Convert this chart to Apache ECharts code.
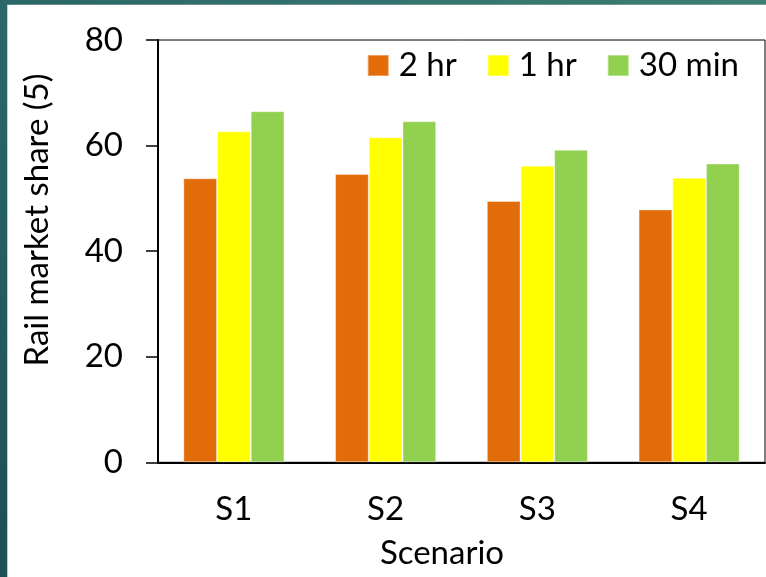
<!DOCTYPE html>
<html>
<head>
<meta charset="utf-8">
<style>
  html, body { margin: 0; padding: 0; background: #ffffff; }
  #chart { width: 766px; height: 577px; }
</style>
<script src="https://cdn.jsdelivr.net/npm/echarts@6/dist/echarts.min.js"></script>
</head>
<body>
<div id="chart"></div>
<script>
// Scenarios on the x axis
const categories = ['S1', 'S2', 'S3', 'S4'];

// Rail market share per access-time series
const seriesNames = ['2 hr', '1 hr', '30 min'];
const share2hr = [53.8, 54.6, 49.5, 47.9];
const share1hr = [62.7, 61.6, 56.2, 53.9];
const share30min = [66.5, 64.6, 59.2, 56.6];

// Y axis range and step
const yMin = 0;
const yMax = 80;
const yStep = 20;

const xTitle = 'Scenario';
const yTitle = 'Rail market share (5)';

const colors = ['#E36C0A', '#FFFF00', '#92D050'];
const FONT = 'Lato';
const FS = 33;

const chart = echarts.init(document.getElementById('chart'), null, { renderer: 'canvas' });

const values = [share2hr, share1hr, share30min];

chart.setOption({
  animation: false,
  backgroundColor: '#ffffff',
  textStyle: { fontFamily: FONT, color: '#000' },
  grid: {
    left: 158, right: 1, top: 40, bottom: 114.7,
    show: true, borderColor: '#000', borderWidth: 1, backgroundColor: 'transparent'
  },
  legend: {
    data: seriesNames,
    right: 22, top: 44,
    itemWidth: 21, itemHeight: 21, itemGap: 30,
    icon: 'rect',
    textStyle: { fontFamily: FONT, fontSize: FS, color: '#000', padding: [0, 0, 0, 5] }
  },
  xAxis: {
    type: 'category',
    data: categories,
    axisLine: { show: true, lineStyle: { color: '#000', width: 2 } },
    axisTick: { show: false },
    axisLabel: { color: '#000', fontFamily: FONT, fontSize: FS, margin: 31 },
    splitLine: { show: false }
  },
  yAxis: {
    type: 'value',
    min: yMin, max: yMax, interval: yStep,
    axisLine: { show: true, lineStyle: { color: '#000', width: 2 } },
    axisTick: { show: true, length: 12, lineStyle: { color: '#000', width: 1.5 } },
    axisLabel: { color: '#000', fontFamily: FONT, fontSize: FS, margin: 35 },
    splitLine: { show: false }
  },
  series: seriesNames.map((name, i) => ({
    name: name,
    type: 'bar',
    data: values[i],
    barGap: '0%',
    barCategoryGap: '33.4%',
    itemStyle: { color: colors[i], borderColor: 'rgba(255,255,255,0.35)', borderWidth: 1 }
  })),
  graphic: [
    {
      type: 'rect', left: 0, top: 0, silent: true,
      shape: { width: 7.3, height: 577 },
      style: {
        fill: new echarts.graphic.LinearGradient(0, 0, 0, 1, [
          { offset: 0, color: '#2b6869' }, { offset: 1, color: '#1e4e56' }
        ])
      }
    },
    {
      type: 'rect', left: 0, top: 0, silent: true,
      shape: { width: 766, height: 4.7 },
      style: {
        fill: new echarts.graphic.LinearGradient(0, 0, 1, 0, [
          { offset: 0, color: '#2b6668' }, { offset: 1, color: '#3f7e72' }
        ])
      }
    },
    {
      type: 'text', x: 37.5, y: 220, rotation: Math.PI / 2, silent: true,
      style: {
        text: yTitle, font: FS + 'px ' + FONT, fill: '#000',
        textAlign: 'center', textVerticalAlign: 'middle'
      }
    },
    {
      type: 'text', x: 442, y: 553, silent: true,
      style: {
        text: xTitle, font: FS + 'px ' + FONT, fill: '#000',
        textAlign: 'center', textVerticalAlign: 'middle'
      }
    }
  ]
});
</script>
</body>
</html>
